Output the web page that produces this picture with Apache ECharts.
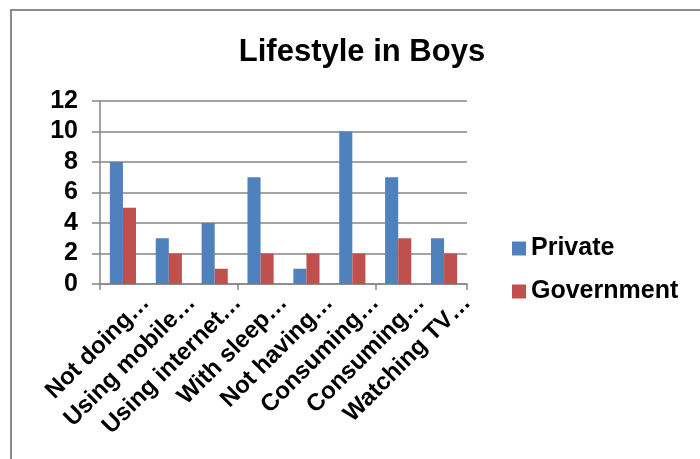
<!DOCTYPE html>
<html>
<head>
<meta charset="utf-8">
<script src="https://cdn.jsdelivr.net/npm/echarts@6/dist/echarts.min.js"></script>
<style>html,body{margin:0;padding:0;background:#fff;}#c{width:700px;height:459px;}</style>
</head>
<body>
<div id="c"></div>
<script>
var categories = ['Not doing…', 'Using mobile…', 'Using internet…', 'With sleep…', 'Not having…', 'Consuming…', 'Consuming…', 'Watching TV…'];
var privateVals = [8, 3, 4, 7, 1, 10, 7, 3];
var governmentVals = [5, 2, 1, 2, 2, 2, 3, 2];
var yTicks = [0, 2, 4, 6, 8, 10, 12];

var chart = echarts.init(document.getElementById('c'));
var font = 'Liberation Sans, Arial, sans-serif';
var shiftedLabels = [''].concat(categories);
chart.setOption({
  animation: false,
  backgroundColor: '#fff',
  title: {
    text: 'Lifestyle in Boys',
    left: 357, top: 32, textAlign: 'center',
    textStyle: {fontFamily: font, fontWeight: 'bold', fontSize: 31, color: '#000'}
  },
  graphic: [{
    type: 'rect', shape: {x: 11, y: 10, width: 720, height: 480},
    style: {fill: 'none', stroke: '#8a8a8a', lineWidth: 2}, silent: true, z: -1
  }],
  legend: {
    orient: 'vertical', left: 507, top: 231,
    itemWidth: 14, itemHeight: 14, itemGap: 18, icon: 'rect',
    textStyle: {fontFamily: font, fontWeight: 'bold', fontSize: 25, color: '#000'},
    data: ['Private', 'Government']
  },
  grid: {left: 100, right: 233, top: 101, bottom: 175},
  xAxis: [{
    type: 'category', data: categories,
    axisLine: {lineStyle: {color: '#868686', width: 1.5}},
    axisTick: {show: true, length: 6, lineStyle: {color: '#868686', width: 1.5}},
    axisLabel: {show: false}
  }, {
    type: 'category', data: shiftedLabels, boundaryGap: false, position: 'bottom',
    axisLine: {show: false}, axisTick: {show: false},
    axisLabel: {interval: 0, rotate: 45, margin: 15, fontFamily: font, fontWeight: 'bold', fontSize: 24, color: '#000'}
  }],
  yAxis: {
    type: 'value', min: 0, max: 12, interval: 2,
    axisLine: {show: true, lineStyle: {color: '#868686', width: 1.5}},
    axisTick: {show: true, length: 8, lineStyle: {color: '#868686', width: 1.5}},
    splitLine: {lineStyle: {color: '#868686', width: 1.5}},
    axisLabel: {margin: 22, fontFamily: font, fontWeight: 'bold', fontSize: 25, color: '#000',
      formatter: function (v) { return yTicks.indexOf(v) >= 0 ? String(v) : ''; }}
  },
  series: [{
    name: 'Private', type: 'bar', data: privateVals, xAxisIndex: 0,
    itemStyle: {color: '#4F81BD'}, barGap: '0%', barCategoryGap: '43%'
  }, {
    name: 'Government', type: 'bar', data: governmentVals, xAxisIndex: 0,
    itemStyle: {color: '#C0504D'}, barGap: '0%', barCategoryGap: '43%'
  }]
});
</script>
</body>
</html>
